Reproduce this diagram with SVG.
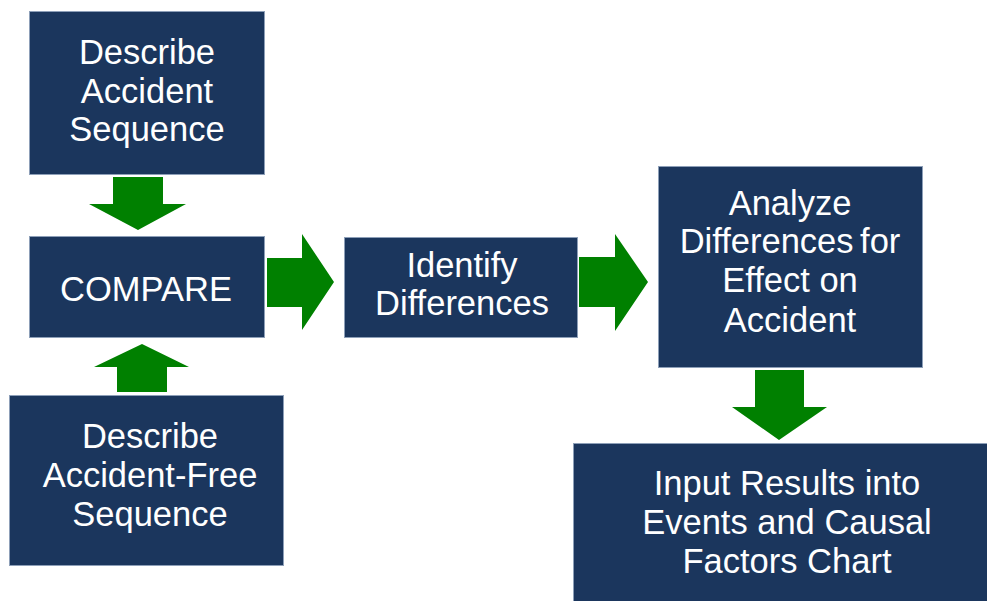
<svg xmlns="http://www.w3.org/2000/svg" width="987" height="601" viewBox="0 0 987 601">
<style>
.box{fill:#1b365d;stroke:#8d9fb8;stroke-width:1}
.arr{fill:#008000}
text{font-family:"Liberation Sans",Arial,sans-serif;font-size:34.5px;fill:#ffffff;text-anchor:middle}
</style>
<rect width="987" height="601" fill="#ffffff"/>
<g id="connectors">
<polygon class="arr" points="113,177 163,177 163,204 186,204 138,230 89,204 113,204"/>
<polygon class="arr" points="117,392 167,392 167,367 189,367 142,344 94,367 117,367"/>
<polygon class="arr" points="267,258 302,258 302,234 334,282 302,330 302,307 267,307"/>
<polygon class="arr" points="579,257 615,257 615,234 648,282 615,331 615,307 579,307"/>
<polygon class="arr" points="755,370 804,370 804,407 827,407 779,440 732,407 755,407"/>
</g>
<g id="node-describe-accident">
<rect class="box" x="29.5" y="11.5" width="235" height="163"/>
<text x="147" y="64">Describe</text>
<text x="147" y="103">Accident</text>
<text x="147" y="141">Sequence</text>
</g>
<g id="node-compare">
<rect class="box" x="29.5" y="236.5" width="235" height="101"/>
<text x="146" y="301">COMPARE</text>
</g>
<g id="node-describe-free">
<rect class="box" x="9.5" y="395.5" width="274" height="170"/>
<text x="150" y="448">Describe</text>
<text x="150" y="487">Accident-Free</text>
<text x="150" y="526">Sequence</text>
</g>
<g id="node-identify">
<rect class="box" x="344.5" y="237.5" width="233" height="100"/>
<text x="462" y="277">Identify</text>
<text x="462" y="315">Differences</text>
</g>
<g id="node-analyze">
<rect class="box" x="658.5" y="166.5" width="264" height="201"/>
<text x="790" y="215">Analyze</text>
<text x="790" y="253" word-spacing="-3">Differences for</text>
<text x="790" y="292">Effect on</text>
<text x="790" y="332">Accident</text>
</g>
<g id="node-input">
<rect class="box" x="573.5" y="443.5" width="420" height="165"/>
<text x="787" y="495">Input Results into</text>
<text x="787" y="534">Events and Causal</text>
<text x="787" y="573">Factors Chart</text>
</g>
</svg>
